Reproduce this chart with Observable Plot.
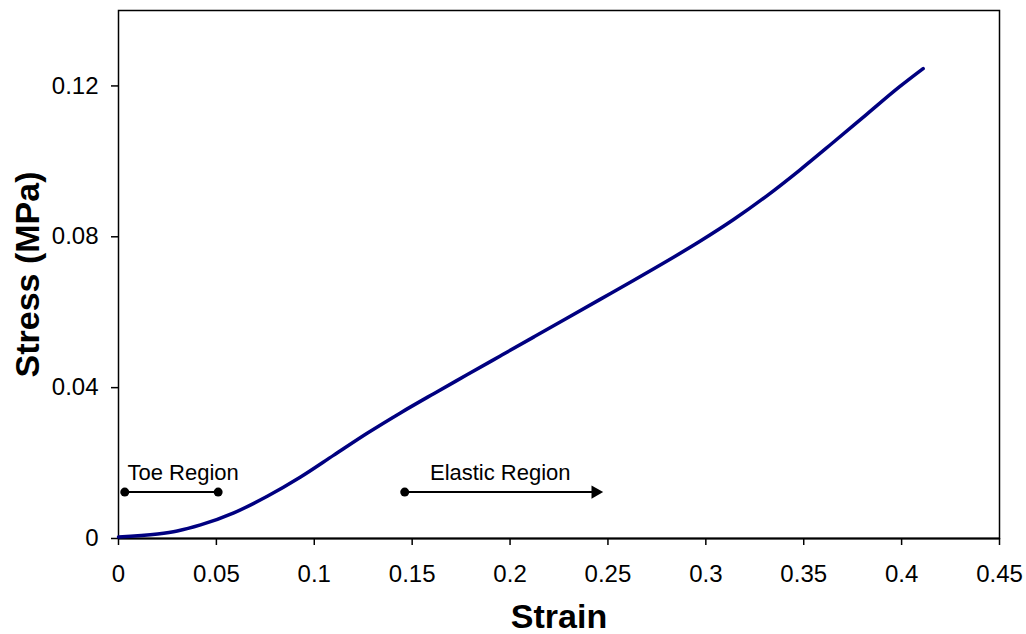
<!DOCTYPE html>
<html>
<head>
<meta charset="utf-8">
<script src="https://cdn.jsdelivr.net/npm/d3@7"></script>
<script src="https://cdn.jsdelivr.net/npm/@observablehq/plot@0.6"></script>
<style>
  html, body { margin: 0; padding: 0; background: #fff; }
</style>
</head>
<body>
<div id="chart"></div>
<script>
const strain = [0, 0.02, 0.03, 0.0419, 0.0589, 0.076, 0.093, 0.110, 0.127, 0.144, 0.161, 0.178, 0.195, 0.212, 0.229, 0.246, 0.263, 0.280, 0.297, 0.314, 0.331, 0.348, 0.365, 0.382, 0.399, 0.411];
const stress = [0.0004, 0.0012, 0.0020, 0.0036, 0.0068, 0.0112, 0.0163, 0.0221, 0.0279, 0.0333, 0.0384, 0.0434, 0.0484, 0.0534, 0.0584, 0.0634, 0.0684, 0.0735, 0.0788, 0.0845, 0.0908, 0.0977, 0.1050, 0.1124, 0.1198, 0.1246];

const xTicks = [0, 0.05, 0.1, 0.15, 0.2, 0.25, 0.3, 0.35, 0.4, 0.45];
const yTicks = [0, 0.04, 0.08, 0.12];

const toeLabel = "Toe Region";
const toeX = [0.0032, 0.0509];
const toeLabelX = 0.0046;
const elasticLabel = "Elastic Region";
const elasticX = [0.1462, 0.2436];
const elasticLabelX = 0.195;
const regionY = 0.0123;
const regionLabelY = 0.0175;

const xTitle = "Strain";
const yTitle = "Stress (MPa)";

const curve = strain.map((s, i) => ({strain: s, stress: stress[i]}));
const fmt = d => String(+d.toFixed(2));

const chart = Plot.plot({
  width: 1026,
  height: 634,
  marginLeft: 118,
  marginTop: 10,
  marginRight: 27,
  marginBottom: 96,
  style: {fontFamily: "'Liberation Sans', Arial, sans-serif", fontSize: "24px", color: "#000", background: "#fff"},
  x: {domain: [0, 0.45]},
  y: {domain: [0, 0.14]},
  marks: [
    Plot.axisX({ticks: xTicks, tickSize: 7, tickPadding: 19, tickFormat: fmt, label: null, strokeWidth: 1.5, fontSize: 24}),
    Plot.axisY({ticks: yTicks, tickSize: 7, tickPadding: 13, tickFormat: fmt, label: null, strokeWidth: 1.5, fontSize: 24}),
    Plot.frame({stroke: "#000", strokeWidth: 1.5}),
    Plot.ruleY([0], {stroke: "#000", strokeWidth: 2}),
    Plot.line(curve, {x: "strain", y: "stress", stroke: "#000080", strokeWidth: 3.5, curve: "monotone-x"}),
    Plot.ruleY([regionY], {x1: toeX[0], x2: toeX[1], stroke: "#000", strokeWidth: 2}),
    Plot.dot(toeX, {x: d => d, y: () => regionY, r: 4.5, fill: "#000"}),
    Plot.ruleY([regionY], {x1: elasticX[0], x2: elasticX[1], stroke: "#000", strokeWidth: 2}),
    Plot.dot([elasticX[0]], {x: d => d, y: () => regionY, r: 4.5, fill: "#000"}),
    Plot.dot([elasticX[1]], {x: d => d, y: () => regionY, symbol: "triangle", rotate: 90, r: 5, fill: "#000"}),
    Plot.text([toeLabel], {x: () => toeLabelX, y: () => regionLabelY, text: d => d, textAnchor: "start", fontSize: 22, fill: "#000"}),
    Plot.text([elasticLabel], {x: () => elasticLabelX, y: () => regionLabelY, text: d => d, textAnchor: "middle", fontSize: 22, fill: "#000"}),
    Plot.text([xTitle], {frameAnchor: "bottom", dy: 79, textAnchor: "middle", lineAnchor: "middle", text: d => d, fontSize: 34, fontWeight: "bold", fill: "#000"}),
    Plot.text([yTitle], {frameAnchor: "left", dx: -90, rotate: -90, textAnchor: "middle", lineAnchor: "middle", text: d => d, fontSize: 34, fontWeight: "bold", fill: "#000"})
  ]
});
document.getElementById("chart").appendChild(chart);
</script>
</body>
</html>
